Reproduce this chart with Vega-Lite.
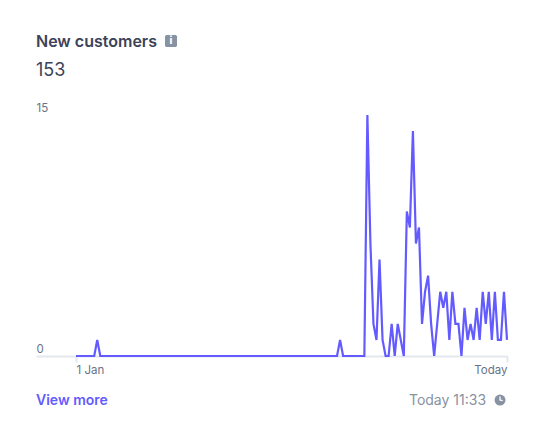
{"$schema":"https://vega.github.io/schema/vega-lite/v6.json","width":471,"height":241,"autosize":{"type":"none"},"padding":{"left":36,"top":115,"right":28,"bottom":74},"background":"white","config":{"view":{"stroke":null},"font":"Inter"},"layer":[{"data":{"values":[{"day":0,"customers":0},{"day":6,"customers":0},{"day":7,"customers":1},{"day":8,"customers":0},{"day":86,"customers":0},{"day":87,"customers":1},{"day":88,"customers":0},{"day":95,"customers":0},{"day":96,"customers":15},{"day":97,"customers":7},{"day":98,"customers":2},{"day":99,"customers":1},{"day":100,"customers":6},{"day":101,"customers":1},{"day":102,"customers":0},{"day":103,"customers":0},{"day":104,"customers":2},{"day":105,"customers":0},{"day":106,"customers":2},{"day":107,"customers":1},{"day":108,"customers":0},{"day":109,"customers":9},{"day":110,"customers":8},{"day":111,"customers":14},{"day":112,"customers":7},{"day":113,"customers":8},{"day":114,"customers":2},{"day":115,"customers":4},{"day":116,"customers":5},{"day":117,"customers":2},{"day":118,"customers":0},{"day":119,"customers":2},{"day":120,"customers":4},{"day":121,"customers":3},{"day":122,"customers":4},{"day":123,"customers":1},{"day":124,"customers":4},{"day":125,"customers":2},{"day":126,"customers":2},{"day":127,"customers":0},{"day":128,"customers":3},{"day":129,"customers":1},{"day":130,"customers":2},{"day":131,"customers":1},{"day":132,"customers":3},{"day":133,"customers":1},{"day":134,"customers":4},{"day":135,"customers":2},{"day":136,"customers":4},{"day":137,"customers":1},{"day":138,"customers":4},{"day":139,"customers":1},{"day":140,"customers":1},{"day":141,"customers":4},{"day":142,"customers":1}]},"mark":{"type":"line","color":"#635bff","strokeWidth":2.2,"clip":false,"interpolate":"linear"},"encoding":{"x":{"field":"day","type":"quantitative","title":null,"scale":{"domain":[-13.18,142],"nice":false,"zero":false},"axis":{"values":[0,142],"grid":false,"labelExpr":"datum.value == 0 ? '1 Jan' : 'Today'","labelAlign":{"condition":{"test":"datum.value == 142","value":"right"},"value":"left"},"labelFontSize":11.5,"labelColor":"#697386","labelFont":"Inter","labelPadding":2,"labelBound":false,"labelFlush":false,"labelOverlap":false,"domainColor":"#e3e8ee","domainWidth":2,"tickColor":"#e3e8ee","tickWidth":2,"tickSize":6}},"y":{"field":"customers","type":"quantitative","title":null,"scale":{"domain":[0,15],"nice":false},"axis":{"values":[0,15],"grid":false,"domain":false,"ticks":false,"labelAlign":"left","labelBaseline":"bottom","labelPadding":0,"labelOffset":-2,"labelFontSize":11.5,"labelColor":"#697386","labelFont":"Inter","labelBound":false,"labelFlush":false}}}},{"data":{"values":[{"label":"New customers"}]},"mark":{"type":"text","align":"left","baseline":"middle","font":"Inter","fontSize":16,"fontWeight":600,"color":"#3c4257","clip":false},"encoding":{"text":{"field":"label"},"x":{"datum":-13.18,"type":"quantitative"},"y":{"datum":19.55,"type":"quantitative"}}},{"data":{"values":[{"label":"153"}]},"mark":{"type":"text","align":"left","baseline":"middle","font":"Inter","fontSize":18,"color":"#3c4257","clip":false},"encoding":{"text":{"field":"label"},"x":{"datum":-13.18,"type":"quantitative"},"y":{"datum":17.74,"type":"quantitative"}}},{"data":{"values":[{"label":"View more"}]},"mark":{"type":"text","align":"left","baseline":"middle","font":"Inter","fontSize":14,"fontWeight":600,"color":"#635bff","clip":false},"encoding":{"text":{"field":"label"},"x":{"datum":-13.18,"type":"quantitative"},"y":{"datum":-2.8,"type":"quantitative"}}},{"data":{"values":[{"label":"Today 11:33"}]},"mark":{"type":"text","align":"right","baseline":"middle","font":"Inter","fontSize":14,"color":"#8792a2","clip":false},"encoding":{"text":{"field":"label"},"x":{"datum":135.1,"type":"quantitative"},"y":{"datum":-2.8,"type":"quantitative"}}},{"data":{"values":[{"icon":"clock"}]},"mark":{"type":"point","shape":"circle","filled":true,"size":120,"color":"#8792a2","opacity":1,"clip":false},"encoding":{"x":{"datum":139.7,"type":"quantitative"},"y":{"datum":-2.74,"type":"quantitative"}}},{"data":{"values":[{"icon":"clock hands"}]},"mark":{"type":"point","shape":"M0,-0.6 L0,0 L0.45,0.1","filled":false,"size":144,"stroke":"white","strokeWidth":1.3,"opacity":1,"clip":false},"encoding":{"x":{"datum":139.7,"type":"quantitative"},"y":{"datum":-2.74,"type":"quantitative"}}},{"data":{"values":[{"icon":"info"}]},"mark":{"type":"point","shape":"M-0.8,-1 L0.8,-1 L1,-0.8 L1,0.8 L0.8,1 L-0.8,1 L-1,0.8 L-1,-0.8 Z","filled":true,"size":144,"color":"#8792a2","opacity":1,"clip":false},"encoding":{"x":{"datum":31.3,"type":"quantitative"},"y":{"datum":19.6,"type":"quantitative"}}},{"data":{"values":[{"label":"i"}]},"mark":{"type":"text","align":"center","baseline":"middle","font":"Inter","fontSize":10,"fontWeight":800,"color":"white","clip":false},"encoding":{"text":{"field":"label"},"x":{"datum":31.3,"type":"quantitative"},"y":{"datum":19.6,"type":"quantitative"}}}]}
